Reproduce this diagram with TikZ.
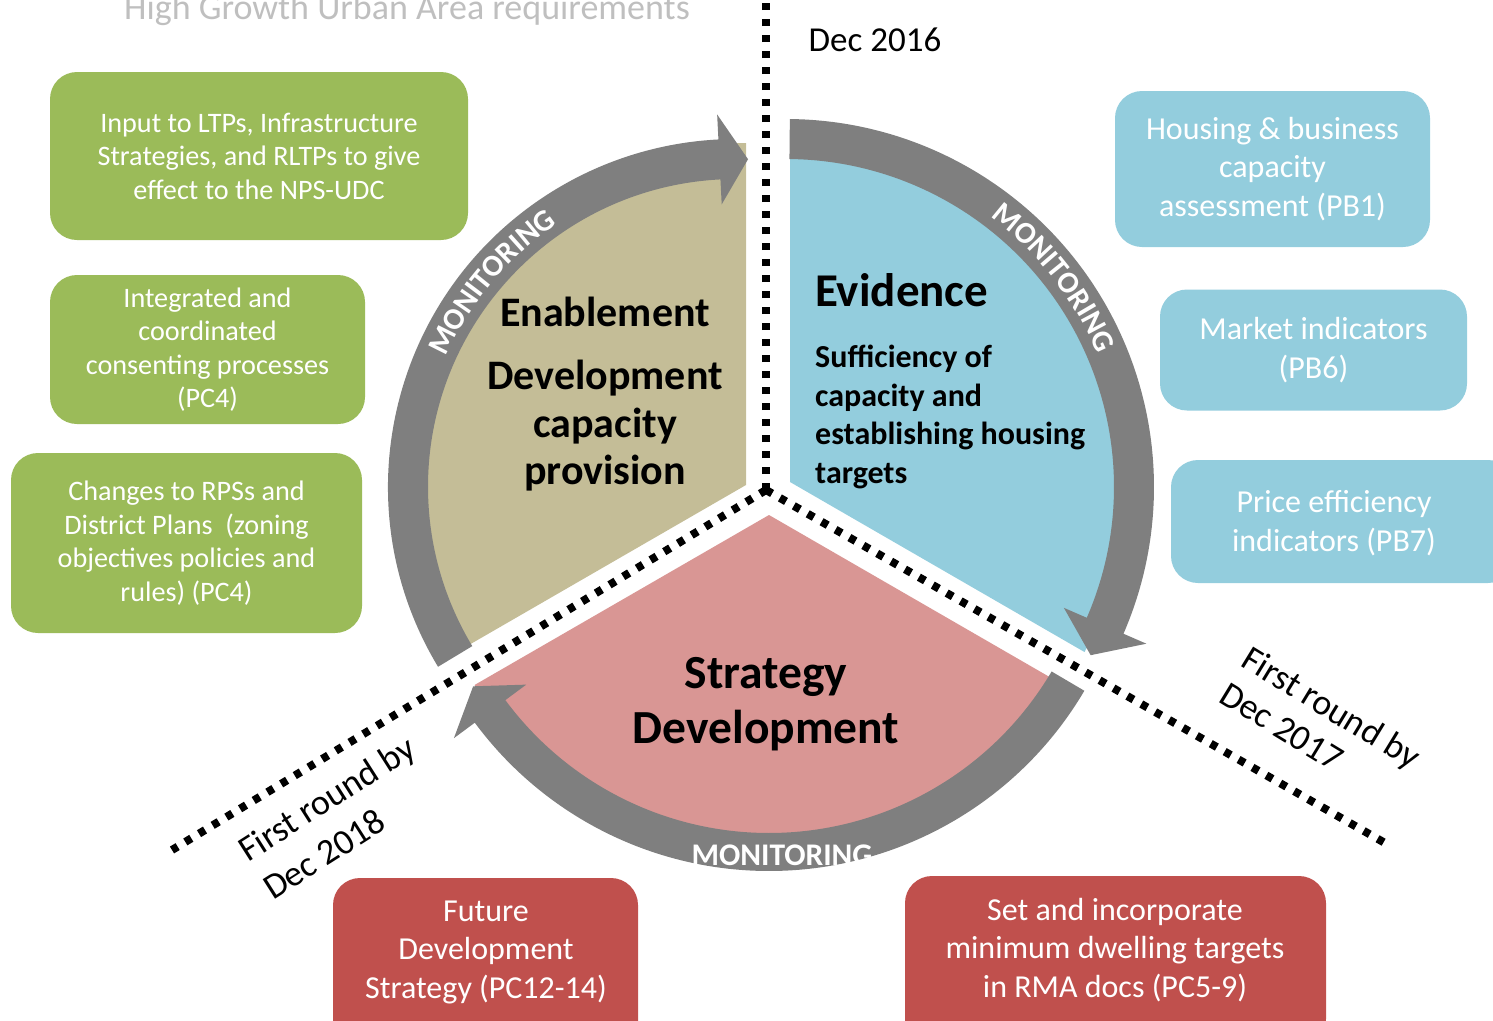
\documentclass[tikz,border=0pt]{standalone}
\usepackage{fontspec}
\setmainfont{Carlito}
\usetikzlibrary{decorations.text}
\definecolor{boxgreen}{HTML}{9BBB59}
\definecolor{boxblue}{HTML}{93CDDD}
\definecolor{boxred}{HTML}{C0504D}
\definecolor{tanc}{HTML}{C4BD97}
\definecolor{pinkc}{HTML}{D99694}
\definecolor{arrowgrey}{HTML}{7F7F7F}
\definecolor{titlegrey}{HTML}{BFBFBF}
\newcommand\myfs[2]{\fontsize{#1}{#2}\selectfont}
\newcommand\monfont{\bfseries\fontsize{30.5}{30.5}\selectfont}
\begin{document}
\begin{tikzpicture}[x=1pt,y=-1pt,
  box/.style={rounded corners=27pt, inner sep=0pt, text=white, align=center},
  gbox/.style={box, fill=boxgreen, font=\myfs{28.2}{33.5}},
  bbox/.style={box, fill=boxblue, font=\myfs{32}{38.5}},
  rbox/.style={box, fill=boxred, font=\myfs{32}{38.5}},
  btext/.style={text=white, align=center, inner sep=0pt, font=\myfs{32}{38.5}},
  dotline/.style={line width=8pt, dash pattern=on 7pt off 9pt, black},
  head/.style={font=\bfseries\myfs{42}{47.5}, align=center, inner sep=0pt},
  rotlabel/.style={font=\myfs{36}{42}, inner sep=0pt, anchor=base west},
  montext/.style={decorate, decoration={text along path, text={|\monfont|MONITORING}, text align=center, text color=white}},
]
\useasboundingbox (0,0) rectangle (1493,1020);

% sectors
\fill[tanc] (746,485) -- ++(-150:342pt) arc[start angle=-150, end angle=-270, radius=342pt] -- cycle;
\fill[boxblue] (790,482) -- ++(90:340pt) arc[start angle=90, end angle=-30, radius=340pt] -- cycle;
\fill[pinkc] (769,515) -- ++(-30:340pt) arc[start angle=-30, end angle=-150, radius=340pt] -- cycle;

% left arrow
\begin{scope}[shift={(736,487)}]
\fill[arrowgrey] (211.1:348pt) arc[start angle=211.1, end angle=92.9, radius=348pt] -- (92.9:373pt) -- (87.9:328pt) -- (92.9:283pt) -- (92.9:308pt) arc[start angle=92.9, end angle=211.1, radius=308pt] -- cycle;
\path[montext] (165:318pt) arc[start angle=165, end angle=115, radius=318pt];
\end{scope}

% right arrow
\begin{scope}[shift={(786,487)}]
\fill[arrowgrey] (89.4:368pt) arc[start angle=89.4, end angle=-23.5, radius=368pt] -- (-23.5:393pt) -- (-28.9:348pt) -- (-23.5:303pt) -- (-23.5:328pt) arc[start angle=-23.5, end angle=89.4, radius=328pt] -- cycle;
\path[montext] (63:339pt) arc[start angle=63, end angle=13, radius=339pt];
\end{scope}

% bottom arrow
\begin{scope}[shift={(769,505)}]
\fill[arrowgrey] (-30.5:366pt) arc[start angle=-30.5, end angle=-143.5, radius=366pt] -- (-143.5:392pt) -- (-148.5:347pt) -- (-143.5:302pt) -- (-143.5:328pt) arc[start angle=-143.5, end angle=-30.5, radius=328pt] -- cycle;
\end{scope}

% dotted division lines
\coordinate (J) at (766,490);
\coordinate (topend) at (766,-5);
\coordinate (llend) at (172,850);
\coordinate (lrend) at (1385,843);
\draw[dotline] (J) -- (topend);
\draw[dotline] (J) -- (llend);
\draw[dotline] (J) -- (lrend);

% sector texts
\node[head] (enab) at (605,312) {Enablement};
\node[head] (devcap) at (605,426) {Development\\capacity\\provision};
\node[font=\bfseries\myfs{47}{55}, inner sep=0pt, anchor=west] (evid) at (815,290) {Evidence};
\node[font=\bfseries\myfs{32}{38.5}, inner sep=0pt, anchor=west, align=left] (suff) at (815,417) {Sufficiency of\\capacity and\\establishing housing\\targets};
\node[font=\bfseries\myfs{47.5}{55}, inner sep=0pt, align=center] (strat) at (766,704) {Strategy\\Development};
\node[font=\bfseries\myfs{31.5}{31.5}, text=white, inner sep=0pt, anchor=base] (mon3) at (782,865) {MONITORING};

% titles and dates
\node[font=\myfs{36}{42}, text=titlegrey, inner sep=0pt, anchor=base] (title) at (407,19) {High Growth Urban Area requirements};
\node[font=\myfs{35}{42}, inner sep=0pt] (dec16) at (875,40) {Dec 2016};
\node[rotlabel, rotate=32.5] (fr18a) at (248,863) {First round by};
\node[rotlabel, rotate=32.5] (fr18b) at (273,901) {Dec 2018};
\node[rotlabel, rotate=-31.4] (fr17a) at (1239,665) {First round by};
\node[rotlabel, rotate=-31.4] (fr17b) at (1217,701) {Dec 2017};

% green boxes
\node[gbox, minimum width=418pt, minimum height=168pt] (g1) at (259,156) {Input to LTPs, Infrastructure\\Strategies, and RLTPs to give\\effect to the NPS-UDC};
\node[gbox, minimum width=315pt, minimum height=149pt] (g2) at (207.5,349.5) {Integrated and\\coordinated\\consenting processes\\(PC4)};
\node[gbox, minimum width=351pt, minimum height=180pt] (g3) at (186.5,543) {Changes to RPSs and\\District Plans\ \ (zoning\\objectives policies and\\rules) (PC4)};

% blue boxes
\node[bbox, minimum width=315pt, minimum height=156pt] (b1) at (1272.5,169) {Housing \& business\\capacity\\assessment (PB1)};
\node[bbox, minimum width=307pt, minimum height=121pt] (b2) at (1313.5,350) {Market indicators\\(PB6)};
\node[bbox, minimum width=344pt, minimum height=123pt] (b3box) at (1343,521.5) {};
\node[btext] (b3) at (1334,523) {Price efficiency\\indicators (PB7)};

% red boxes
\node[rbox, minimum width=305pt, minimum height=170pt] (r1box) at (485.5,963) {};
\node[btext] (r1) at (486,952) {Future\\Development\\Strategy (PC12-14)};
\node[rbox, minimum width=421pt, minimum height=170pt] (r2box) at (1115.5,961) {};
\node[btext] (r2) at (1115,950) {Set and incorporate\\minimum dwelling targets\\in RMA docs (PC5-9)};
\end{tikzpicture}
\end{document}
